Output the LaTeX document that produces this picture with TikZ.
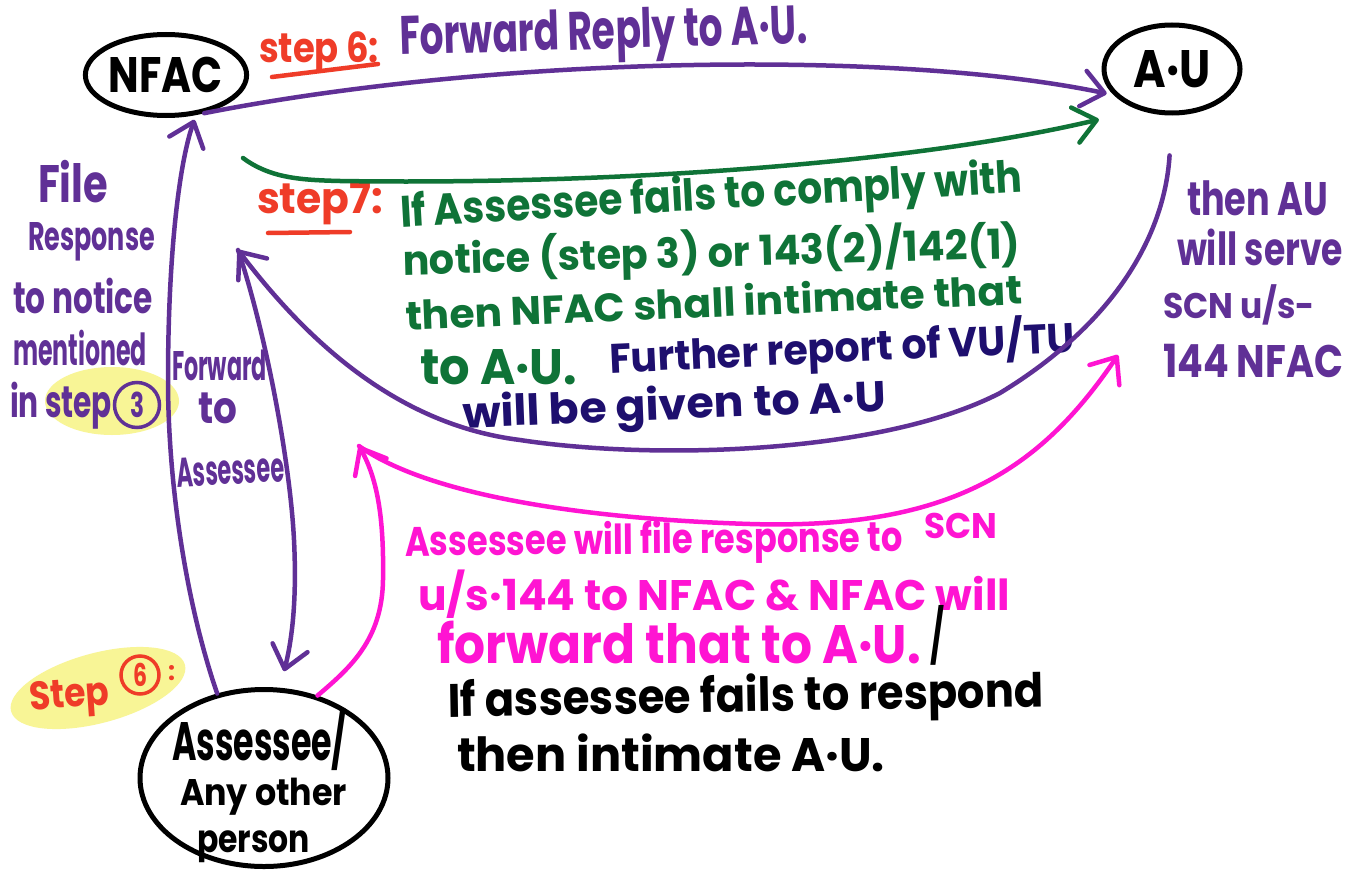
\documentclass[tikz,border=0pt]{standalone}
\usepackage{fontspec}
\setmainfont{Poppins}
\usepackage{graphicx}
\usetikzlibrary{shapes.geometric,arrows.meta}
\definecolor{cpurple}{HTML}{603096}
\definecolor{cgreen}{HTML}{0F7337}
\definecolor{cnavy}{HTML}{1E0F6E}
\definecolor{cred}{HTML}{EF3C28}
\definecolor{cpink}{HTML}{FF14D2}
\definecolor{cyellow}{HTML}{F8F596}
\newcommand{\hw}[3]{\resizebox{#1pt}{#2pt}{\vphantom{A}\smash{#3}}}
\begin{document}
\begin{tikzpicture}[x=1pt,y=-1pt,
  lbl/.style={inner sep=0pt,outer sep=0pt,anchor=base west,font=\bfseries},
  bubble/.style={ellipse,draw=black,line width=5pt,inner sep=0pt,font=\bfseries},
  pen/.style={line width=4.5pt,line cap=round,line join=round},
  tip/.style={-{Straight Barb[length=22pt,width=36pt,round]}},
  digit/.style={circle,line width=3.5pt,inner sep=0pt,font=\bfseries}]
\fill[white] (0,0) rectangle (1364,872);
\useasboundingbox (0,0) rectangle (1364,872);
% highlights
\fill[cyellow] (112,401) ellipse[x radius=67pt,y radius=34pt];
\fill[cyellow,rotate around={15:(98,688)}] (98,688) ellipse[x radius=90pt,y radius=35pt];
% main nodes
\node[bubble,minimum width=159pt,minimum height=81pt] (nfac) at (166,75) {\hw{114}{35}{NFAC}};
\node[bubble,minimum width=136pt,minimum height=88pt] (au) at (1172,69) {\hw{77}{37}{A·U}};
\node[bubble,minimum width=248pt,minimum height=177pt] (asse) at (264,778) {};
\node[lbl] (a1) at (172,760) {\hw{175}{38}{Assessee/}};
\node[lbl] (a2) at (180,805) {\hw{167}{26}{Any other}};
\node[lbl] (a3) at (197,852) {\hw{113}{27}{person}};
% coordinates
\coordinate (g0) at (243,158);
\coordinate (j1) at (238,250);
\coordinate (j2) at (359,446);
\coordinate (ptip) at (1118,355);
% top texts
\node[lbl,text=cred] (t6) at (259,63) {\hw{120}{29}{step 6:}};
\draw[pen,cred] (272,77) -- (378,64);
\node[lbl,text=cpurple,rotate=1.7] (fwd) at (400,55) {\hw{408}{38}{Forward Reply to A·U.}};
\node[lbl,text=cred] (s7) at (257,213) {\hw{126}{30}{step7:}};
\draw[pen,cred] (268,233) -- (350,232);
% green / navy block
\node[lbl,text=cgreen,rotate=3.2] (g1) at (401,227) {\hw{623}{31}{If Assessee fails to comply with}};
\node[lbl,text=cgreen,rotate=1.5] (g2) at (403,275) {\hw{618}{29}{notice (step 3) or 143(2)/142(1)}};
\node[lbl,text=cgreen,rotate=2.4] (g3) at (406,330) {\hw{617}{28}{then NFAC shall intimate that}};
\node[lbl,text=cgreen] (g4) at (420,384) {\hw{157}{35}{to A·U.}};
\node[lbl,text=cnavy,rotate=2.6] (n1) at (610,373) {\hw{466}{29}{Further report of VU/TU}};
\node[lbl,text=cnavy,rotate=2.3] (n2) at (463,428) {\hw{424}{30}{will be given to A·U}};
% right texts
\node[lbl,text=cpurple] (r1) at (1187,215) {\hw{141}{33}{then AU}};
\node[lbl,text=cpurple] (r2) at (1177,265) {\hw{166}{32}{will serve}};
\node[lbl,text=cpurple] (r3) at (1163,318) {\hw{152}{25}{SCN u/s-}};
\node[lbl,text=cpurple] (r4) at (1163,377) {\hw{180}{32}{144 NFAC}};
% left texts
\node[lbl,text=cpurple] (l1) at (38,202) {\hw{70}{37}{File}};
\node[lbl,text=cpurple] (l2) at (28,250) {\hw{127}{28}{Response}};
\node[lbl,text=cpurple] (l3) at (13,313) {\hw{140}{31}{to notice}};
\node[lbl,text=cpurple] (l4) at (13,365) {\hw{134}{31}{mentioned}};
\node[lbl,text=cpurple] (l5) at (10,417) {\hw{102}{31}{in step}};
\node[digit,draw=cpurple,text=cpurple,minimum size=45pt] (c3) at (137,405) {\hw{14}{24}{3}};
\node[lbl,text=cpurple] (f1) at (172,380) {\hw{95}{29}{Forward}};
\node[lbl,text=cpurple] (f2) at (198,423) {\hw{39}{31}{to}};
\node[lbl,text=cpurple,rotate=3] (f3) at (177,487) {\hw{108}{29}{Assessee}};
% pink / black texts
\node[lbl,text=cpink,rotate=0.5] (p1) at (405,556) {\hw{498}{29}{Assessee will file response to}};
\node[lbl,text=cpink] (p1b) at (924,538) {\hw{73}{25}{SCN}};
\node[lbl,text=cpink] (p2) at (418,610) {\hw{592}{30}{u/s·144 to NFAC \& NFAC will}};
\node[lbl,text=cpink] (p3) at (437,663) {\hw{484}{38}{forward that to A·U.}};
\node[lbl,text=black] (sl) at (930,655) {\hw{14}{37}{/}};
\node[lbl,text=black,rotate=1] (b1) at (448,717) {\hw{596}{33}{If assessee fails to respond}};
\node[lbl,text=black] (b2) at (457,771) {\hw{428}{33}{then intimate A·U.}};
% step 6 bottom
\node[lbl,text=cred,rotate=4] (s6) at (30,710) {\hw{80}{28}{Step}};
\node[digit,draw=cred,text=cred,minimum size=38pt] (c6) at (140,675) {\hw{14}{22}{6}};
\node[lbl,text=cred] (col) at (168,680) {\hw{7}{18}{:}};
% connectors
\draw[pen,cpurple,tip,shorten >=7pt] (nfac.-45) .. controls (500,55) and (900,50) .. (au.204);
\draw[pen,cgreen,tip,shorten >=41pt] (g0) .. controls (270,178) and (300,180) .. (340,181) .. controls (600,185) and (907,165) .. (au.231);
\draw[pen,cpurple,tip,shorten <=40pt] (au.south) .. controls (1165,230) and (1120,320) .. (1000,393) .. controls (880,455) and (650,460) .. (520,440) .. controls (400,425) and (310,345) .. (j1);
\draw[pen,cpurple,tip,shorten >=17pt] (j1) .. controls (265,330) and (290,460) .. (294,540) .. controls (297,600) and (292,640) .. (asse.80);
\draw[pen,cpurple,tip,shorten >=5pt] (asse.119) .. controls (185,600) and (168,480) .. (168,380) .. controls (168,250) and (180,160) .. (nfac.-53);
\draw[pen,cpink,tip] (asse.57) .. controls (350,668) and (382,640) .. (383,580) .. controls (384,520) and (378,480) .. (j2);
\draw[pen,cpink,tip] (j2) .. controls (420,490) and (560,518) .. (750,524) .. controls (950,530) and (1040,470) .. (ptip);
\end{tikzpicture}
\end{document}
